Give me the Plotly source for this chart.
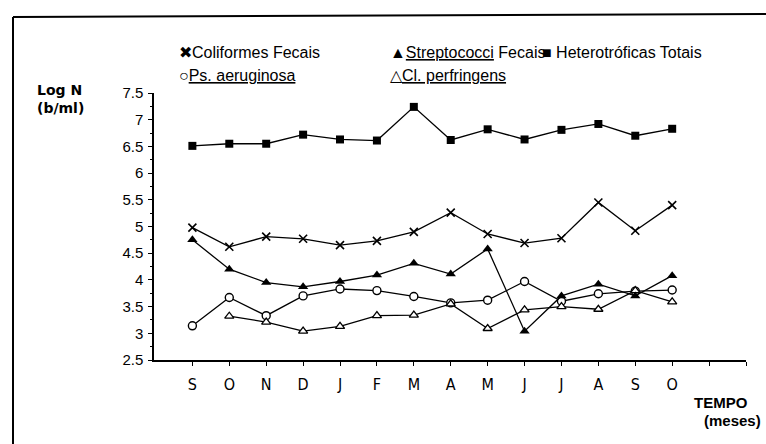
import plotly.graph_objects as go

months = ["S", "O", "N", "D", "J", "F", "M", "A", "M", "J", "J", "A", "S", "O"]
x_idx = list(range(len(months)))

coliformes = [4.98, 4.62, 4.81, 4.77, 4.65, 4.73, 4.90, 5.26, 4.86, 4.69, 4.78, 5.45, 4.92, 5.40]
streptococci = [4.75, 4.20, 3.95, 3.87, 3.97, 4.09, 4.31, 4.11, 4.58, 3.04, 3.70, 3.92, 3.70, 4.08]
heterotroficas = [6.51, 6.55, 6.55, 6.72, 6.63, 6.61, 7.24, 6.62, 6.82, 6.63, 6.81, 6.92, 6.70, 6.83]
aeruginosa = [3.14, 3.67, 3.33, 3.70, 3.83, 3.80, 3.69, 3.57, 3.62, 3.97, 3.60, 3.74, 3.79, 3.81]
perfringens = [None, 3.32, 3.21, 3.04, 3.13, 3.33, 3.34, 3.55, 3.09, 3.44, 3.50, 3.45, 3.80, 3.59]

y_tickvals = [2.5, 3, 3.5, 4, 4.5, 5, 5.5, 6, 6.5, 7, 7.5]
y_ticktext = ["2.5", "3", "3.5", "4", "4.5", "5", "5.5", "6", "6.5", "7", "7.5"]
x_tickvals = list(range(16))
x_ticktext = months + ["", ""]

W, H = 766, 444
L, R, T, B = 154, 20, 93, 84
PW, PH = W - L - R, H - T - B


def xp(px):
    return (px - L) / PW


def yp(py):
    return (T + PH - py) / PH


LINE = dict(color="black", width=1.3)
fig = go.Figure()

fig.add_trace(go.Scatter(x=x_idx, y=heterotroficas, mode="lines+markers", line=LINE,
                         marker=dict(symbol="square", size=8, color="black")))
fig.add_trace(go.Scatter(x=x_idx, y=coliformes, mode="lines+markers", line=LINE,
                         marker=dict(symbol="x-thin", size=8, line=dict(color="black", width=1.6))))
fig.add_trace(go.Scatter(x=x_idx, y=aeruginosa, mode="lines+markers", line=LINE,
                         marker=dict(symbol="circle", size=8, color="white", line=dict(color="black", width=1.4))))
fig.add_trace(go.Scatter(x=x_idx, y=perfringens, mode="lines+markers", line=LINE,
                         marker=dict(symbol="triangle-up", size=8, color="white", line=dict(color="black", width=1.3))))
fig.add_trace(go.Scatter(x=x_idx, y=streptococci, mode="lines+markers", line=LINE,
                         marker=dict(symbol="triangle-up", size=9, color="black")))

NARROW = "Liberation Sans Narrow, DejaVu Sans Condensed, Arial Narrow, sans-serif"
SANS = "Liberation Sans, Arial, sans-serif"
BOLD = "DejaVu Sans, Liberation Sans, sans-serif"

fig.update_layout(
    width=W, height=H,
    margin=dict(l=L, r=R, t=T, b=B),
    paper_bgcolor="white", plot_bgcolor="white",
    showlegend=False,
    xaxis=dict(range=[-1.04, 15], tickvals=x_tickvals, ticktext=x_ticktext,
               showline=True, linecolor="black", linewidth=1.5,
               ticks="outside", ticklen=4, tickwidth=1.2, tickcolor="black",
               showgrid=False, zeroline=False, ticklabelstandoff=5,
               tickfont=dict(family=NARROW, size=16, color="black")),
    yaxis=dict(range=[2.5, 7.5], tickvals=y_tickvals, ticktext=y_ticktext,
               showline=True, linecolor="black", linewidth=1.5,
               ticks="outside", ticklen=4, tickwidth=1.2, tickcolor="black",
               minor=dict(dtick=0.25, tick0=2.5, ticks="outside", ticklen=2, tickcolor="black"),
               showgrid=False, zeroline=False, ticklabelstandoff=2,
               tickfont=dict(family=SANS, size=15, color="black")),
)

legend_font = dict(family=SANS, size=16, color="black")
anns = [
    ("✖Coliformes Fecais", 177, 52),
    ("▲<u>Streptococci</u> Fecais", 388, 52),
    ("■ Heterotróficas Totais", 540, 52),
    ("○<u>Ps. aeruginosa</u>", 177, 75),
    ("△<u>Cl. perfringens</u>", 388, 75),
]
for text, px, py in anns:
    fig.add_annotation(text=text, x=xp(px), y=yp(py), xref="paper", yref="paper",
                       xanchor="left", yanchor="middle", showarrow=False, font=legend_font)

for text, px, py, sz in [("<b>Log N</b>", 35, 90, 14), ("<b>(b/ml)</b>", 35, 108, 14)]:
    fig.add_annotation(text=text, x=xp(px), y=yp(py), xref="paper", yref="paper",
                       xanchor="left", yanchor="middle", showarrow=False,
                       font=dict(family=BOLD, size=sz, color="black"))

axis_title_font = dict(family="Liberation Sans, Arial, sans-serif", size=15, color="black")
fig.add_annotation(text="<b>TEMPO</b>", x=xp(692), y=yp(402), xref="paper", yref="paper",
                   xanchor="left", yanchor="middle", showarrow=False, font=axis_title_font)
fig.add_annotation(text="<b>(meses)</b>", x=xp(763), y=yp(420), xref="paper", yref="paper",
                   xanchor="right", yanchor="middle", showarrow=False, font=axis_title_font)

# outer frame (left and top edges)
fig.add_shape(type="line", xref="paper", yref="paper", x0=xp(13), x1=xp(766), y0=yp(17), y1=yp(14),
              line=dict(color="black", width=2))
fig.add_shape(type="line", xref="paper", yref="paper", x0=xp(13), x1=xp(13), y0=yp(17), y1=yp(446),
              line=dict(color="black", width=2))

fig.write_html("out.html", config={"displayModeBar": False},
               post_script="document.body.style.margin='0';document.body.style.overflow='hidden';")
